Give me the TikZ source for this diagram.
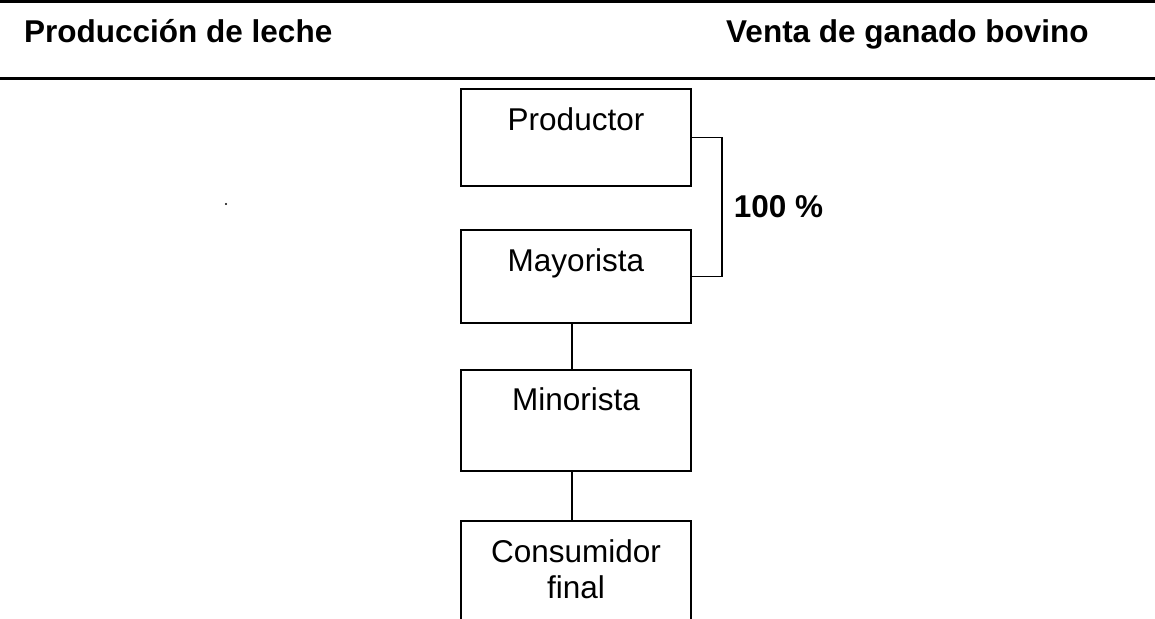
\documentclass[tikz,border=0pt]{standalone}
\usepackage{fontspec}
\setmainfont{Liberation Sans}
\usetikzlibrary
  {
    positioning,              % place nodes relative to other nodes
  }

\begin{document}
\begin{tikzpicture}
    [
      x=1pt, y=-1pt,
      font=\fontsize{31.5pt}{36pt}\selectfont,
      stage/.style=
        {
          rectangle,
          draw=black,
          line width=2pt,
          minimum width=230pt,
          inner sep=0pt,
          outer sep=0pt,
          text height=41pt,
          text depth=56pt,
          align=center,
        },
      heading/.style=
        {
          anchor=base west,
          inner sep=0pt,
          font=\fontsize{31.5pt}{36pt}\selectfont\bfseries,
        },
      link/.style={line width=1.7pt},
      rule/.style={line width=3pt},
    ]
    \useasboundingbox (0,0) rectangle (1155,618);
    \clip (0,0) rectangle (1155,618);
    \draw[rule] (0,1.3) -- (1155,1.3);
    \draw[rule] (0,78.3) -- (1155,78.3);

    \node[heading] (leche)  at (24,43)  {Producción de leche};
    \node[heading] (ganado) at (726,43) {Venta de ganado bovino};

    \node[stage, anchor=north] (productor) at (576,89) {Productor};
    \node[stage, text depth=52pt]
                 (mayorista)  [below=44pt of productor] {Mayorista};
    \node[stage, text height=40pt, text depth=61pt]
                 (minorista)  [below=47pt of mayorista] {Minorista};
    \node[stage, text height=77pt, text depth=80pt]
                 (consumidor) [below=50pt of minorista] {Consumidor\\final};

    \draw[link] (productor.east) -- ++(31,0)
      |- node[pos=0.25, right=11pt, inner sep=0pt,
              font=\fontsize{31.5pt}{36pt}\selectfont\bfseries] (share) {100 \%}
      (mayorista.east);
    \draw[link] ([xshift=-4pt]mayorista.south) -- ([xshift=-4pt]minorista.north);
    \draw[link] ([xshift=-4pt]minorista.south) -- ([xshift=-4pt]consumidor.north);

    \fill (226,204) circle (1.1pt);
  \end{tikzpicture}
\end{document}
